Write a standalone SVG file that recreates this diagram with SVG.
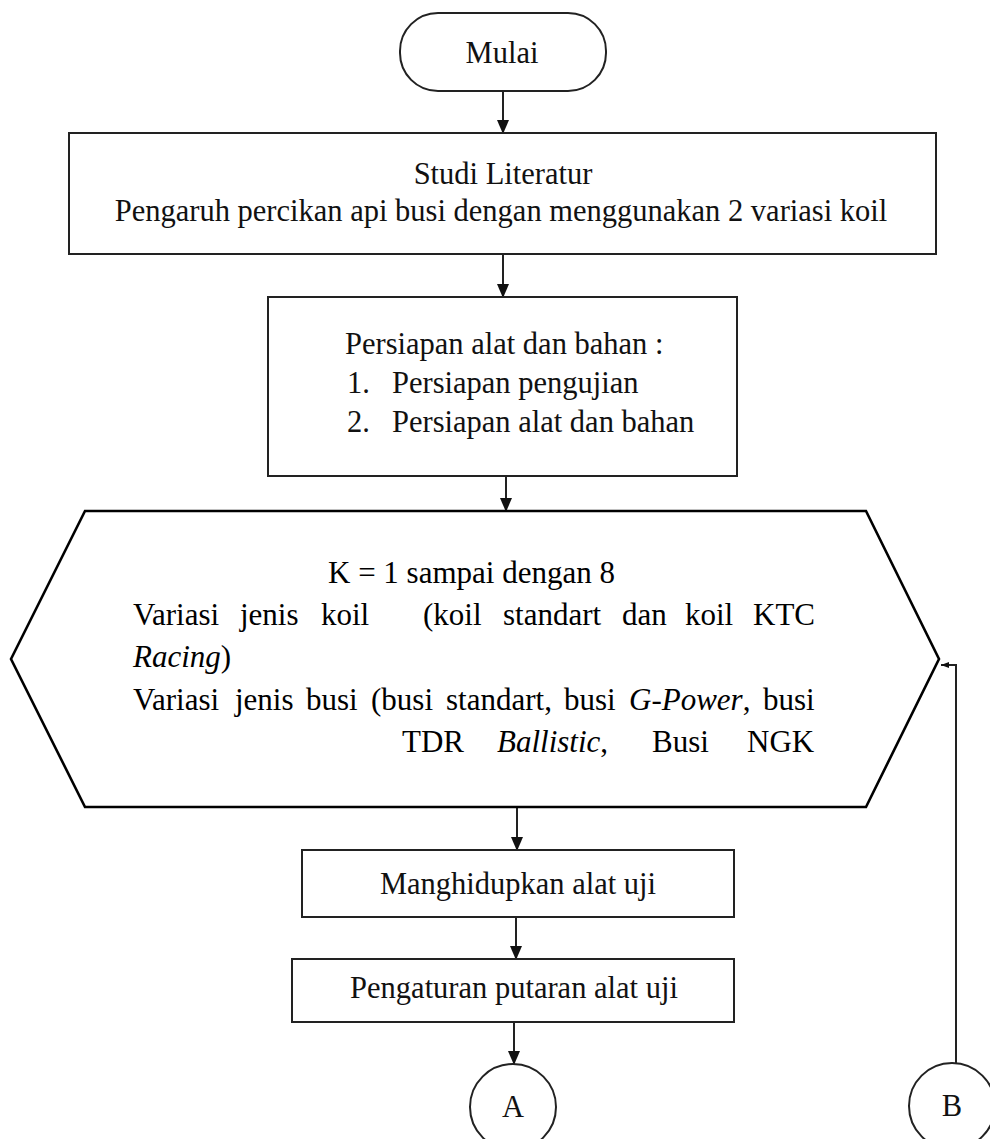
<svg xmlns="http://www.w3.org/2000/svg" width="990" height="1139" viewBox="0 0 990 1139">
  <style>
    .box { fill: #ffffff; stroke: #222222; stroke-width: 2; }
    .hex { fill: #ffffff; stroke: #000000; stroke-width: 2.6; }
    .link { fill: none; stroke: #222222; stroke-width: 2; }
    .t { font-family: "Liberation Serif", "Times New Roman", serif; font-size: 30.5px; fill: #111111; }
    .h { font-family: "Liberation Serif", "Times New Roman", serif; font-size: 31px; fill: #000000; }
    .mid { text-anchor: middle; }
    .it { font-style: italic; }
  </style>
  <defs>
    <marker id="arrow" markerUnits="userSpaceOnUse" markerWidth="14" markerHeight="14" viewBox="0 0 14 14" refX="13" refY="7" orient="auto">
      <path d="M0,1 L14,7 L0,13 Z" fill="#111111"/>
    </marker>
    <marker id="arrowSmall" markerUnits="userSpaceOnUse" markerWidth="8" markerHeight="8" viewBox="0 0 8 8" refX="8" refY="4" orient="auto">
      <path d="M0,1 L8,4 L0,7 Z" fill="#111111"/>
    </marker>
  </defs>

  <!-- connectors -->
  <g id="connectors">
    <line class="link" x1="503" y1="91" x2="503" y2="133" marker-end="url(#arrow)"/>
    <line class="link" x1="503" y1="254" x2="503" y2="297" marker-end="url(#arrow)"/>
    <line class="link" x1="506" y1="476" x2="506" y2="511" marker-end="url(#arrow)"/>
    <line class="link" x1="517" y1="808" x2="517" y2="850" marker-end="url(#arrow)"/>
    <line class="link" x1="516" y1="917" x2="516" y2="959" marker-end="url(#arrow)"/>
    <line class="link" x1="514" y1="1022" x2="514" y2="1064" marker-end="url(#arrow)"/>
    <path class="link" d="M956,1063 V665 H941" marker-end="url(#arrowSmall)"/>
  </g>

  <!-- start terminator -->
  <g id="mulai">
    <rect class="box" x="400" y="13" width="206" height="78" rx="38" ry="38"/>
    <text class="t mid" x="502" y="63">Mulai</text>
  </g>

  <!-- literature study -->
  <g id="studi-literatur">
    <rect class="box" x="69" y="133" width="867" height="121"/>
    <text class="t mid" x="503" y="184">Studi Literatur</text>
    <text class="t mid" x="501" y="221">Pengaruh percikan api busi dengan menggunakan 2 variasi koil</text>
  </g>

  <!-- preparation -->
  <g id="persiapan">
    <rect class="box" x="268" y="297" width="469" height="179"/>
    <text class="t" x="345" y="354">Persiapan alat dan bahan :</text>
    <text class="t" x="347" y="393">1.</text>
    <text class="t" x="392" y="393">Persiapan pengujian</text>
    <text class="t" x="347" y="432">2.</text>
    <text class="t" x="392" y="432">Persiapan alat dan bahan</text>
  </g>

  <!-- loop preparation hexagon -->
  <g id="loop-k">
    <polygon class="hex" points="11,659 85,511 866,511 939,659 866,807 85,807"/>
    <text class="h" x="328" y="583">K = 1 sampai dengan 8</text>
    <text class="h" y="625">
      <tspan x="133">Variasi</tspan><tspan x="240">jenis</tspan><tspan x="321">koil</tspan><tspan x="423">(koil</tspan><tspan x="503">standart</tspan><tspan x="622">dan</tspan><tspan x="685">koil</tspan><tspan x="753">KTC</tspan>
    </text>
    <text class="h" x="133" y="667"><tspan class="it">Racing</tspan>)</text>
    <text class="h" y="710">
      <tspan x="133">Variasi</tspan><tspan x="235">jenis</tspan><tspan x="306">busi</tspan><tspan x="371">(busi</tspan><tspan x="446">standart,</tspan><tspan x="564">busi</tspan><tspan x="629" class="it">G-Power</tspan>,<tspan x="763">busi</tspan>
    </text>
    <text class="h" y="752">
      <tspan x="402">TDR</tspan><tspan x="497" class="it">Ballistic</tspan>,<tspan x="652">Busi</tspan><tspan x="747">NGK</tspan>
    </text>
  </g>

  <!-- switch on the test rig -->
  <g id="hidupkan">
    <rect class="box" x="302" y="850" width="432" height="67"/>
    <text class="t mid" x="518" y="894">Manghidupkan alat uji</text>
  </g>

  <!-- rotation setting -->
  <g id="pengaturan">
    <rect class="box" x="292" y="959" width="442" height="63"/>
    <text class="t mid" x="514" y="998">Pengaturan putaran alat uji</text>
  </g>

  <!-- off-page connectors -->
  <g id="konektor-a">
    <circle class="box" cx="513" cy="1107" r="43"/>
    <text class="t mid" x="513" y="1117">A</text>
  </g>
  <g id="konektor-b">
    <circle class="box" cx="952" cy="1106" r="43"/>
    <text class="t mid" x="952" y="1116">B</text>
  </g>
</svg>
